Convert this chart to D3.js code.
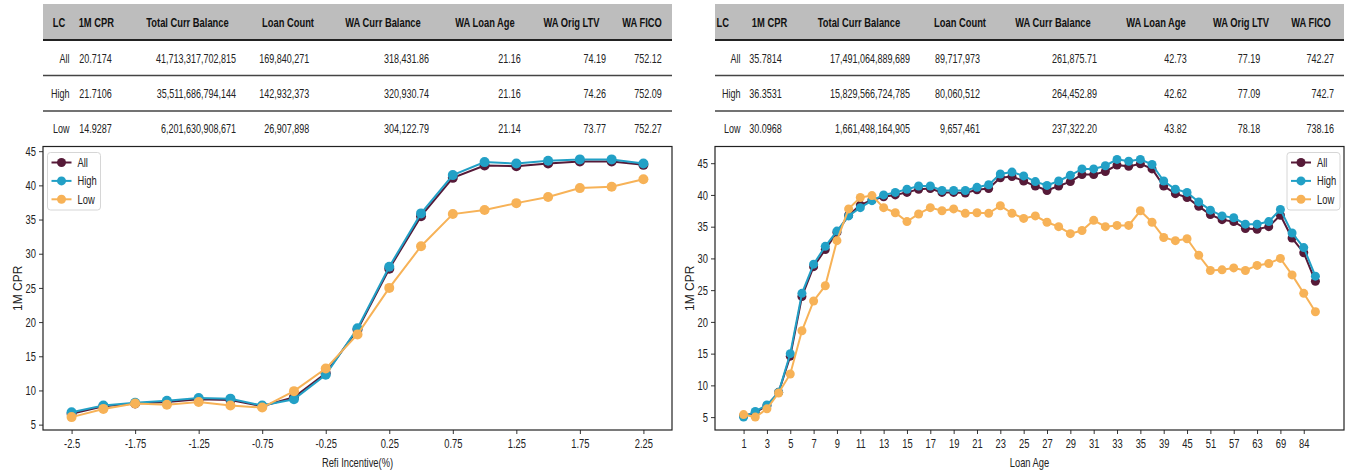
<!DOCTYPE html>
<html><head><meta charset="utf-8">
<script src="https://cdn.jsdelivr.net/npm/d3@7"></script>
<style>body{margin:0;background:#fff}svg{display:block}</style>
</head><body>
<svg id="c" width="1348" height="470"></svg>
<script>
// ---------------- DATA ----------------
const seriesNames = ["All", "High", "Low"];

const refiCats = ["-2.5","-2","-1.75","-1.5","-1.25","-1","-0.75","-0.5","-0.25","0","0.25","0.5","0.75","1","1.25","1.5","1.75","2","2.25"];
const refiTickLabels = ["-2.5","-1.75","-1.25","-0.75","-0.25","0.25","0.75","1.25","1.75","2.25"];
const refiAll  = [6.6, 7.7, 8.1, 8.3, 8.7, 8.6, 7.7, 9.0, 12.5, 18.9, 27.8, 35.5, 41.1, 42.9, 42.8, 43.2, 43.5, 43.5, 43.0];
const refiHigh = [6.8, 7.8, 8.2, 8.5, 8.9, 8.8, 7.8, 8.7, 12.3, 19.1, 28.1, 35.9, 41.5, 43.4, 43.2, 43.6, 43.8, 43.8, 43.2];
const refiLow  = [6.1, 7.3, 8.1, 7.9, 8.3, 7.8, 7.5, 9.9, 13.2, 18.2, 25.0, 31.1, 35.8, 36.4, 37.4, 38.3, 39.6, 39.8, 40.9];

const ageCats = ["1","2","3","4","5","6","7","8","9","10","11","12","13","14","15","16","17","18","19","20","21","22","23","24","25","26","27","28","29","30","31","32","33","34","35","36","39","42","45","48","51","54","57","60","63","66","69","75","84","90"];
const ageTickLabels = ["1","3","5","7","9","11","13","15","17","19","21","23","25","27","29","31","33","35","39","45","51","57","63","69","84"];
const ageAll  = [5.2, 5.7, 6.8, 8.9, 14.6, 24.0, 28.7, 31.4, 34.1, 36.8, 38.4, 39.2, 39.7, 40.0, 40.4, 40.9, 41.0, 40.4, 40.4, 40.3, 40.8, 41.0, 42.7, 42.9, 42.2, 41.4, 40.7, 41.4, 42.1, 43.2, 43.2, 43.7, 44.7, 44.5, 44.9, 44.1, 41.4, 40.2, 39.6, 38.2, 36.9, 36.1, 35.8, 34.7, 34.6, 35.0, 36.8, 33.2, 30.9, 26.4];
const ageHigh = [5.0, 5.9, 6.9, 8.9, 15.0, 24.5, 29.1, 31.9, 34.3, 36.7, 38.0, 39.1, 40.0, 40.4, 40.9, 41.4, 41.4, 40.7, 40.7, 40.7, 41.2, 41.6, 43.3, 43.6, 43.0, 42.1, 41.5, 42.2, 43.1, 44.1, 44.1, 44.6, 45.6, 45.3, 45.6, 44.8, 42.2, 40.9, 40.4, 38.9, 37.6, 36.7, 36.4, 35.4, 35.4, 35.8, 37.7, 34.0, 31.7, 27.2];
const ageLow  = [5.4, 5.0, 6.3, 8.8, 11.8, 18.6, 23.3, 25.7, 32.8, 37.8, 39.6, 39.9, 38.0, 37.2, 35.8, 37.0, 38.0, 37.5, 37.8, 37.1, 37.2, 37.1, 38.3, 37.1, 36.3, 36.7, 35.7, 35.0, 33.9, 34.4, 36.0, 35.0, 35.2, 35.2, 37.5, 35.7, 33.3, 32.8, 33.1, 30.5, 28.1, 28.2, 28.5, 28.1, 28.9, 29.2, 30.0, 27.4, 24.5, 21.6];

const tableHeaders = ["LC", "1M CPR", "Total Curr Balance", "Loan Count", "WA Curr Balance", "WA Loan Age", "WA Orig LTV", "WA FICO"];
const refiTableRows = [
  ["All",  "20.7174", "41,713,317,702,815", "169,840,271", "318,431.86", "21.16", "74.19", "752.12"],
  ["High", "21.7106", "35,511,686,794,144", "142,932,373", "320,930.74", "21.16", "74.26", "752.09"],
  ["Low",  "14.9287", "6,201,630,908,671",  "26,907,898",  "304,122.79", "21.14", "73.77", "752.27"]
];
const ageTableRows = [
  ["All",  "35.7814", "17,491,064,889,689", "89,717,973", "261,875.71", "42.73", "77.19", "742.27"],
  ["High", "36.3531", "15,829,566,724,785", "80,060,512", "264,452.89", "42.62", "77.09", "742.7"],
  ["Low",  "30.0968", "1,661,498,164,905",  "9,657,461",  "237,322.20", "43.82", "78.18", "738.16"]
];

// ---------------- STYLE / LAYOUT ----------------
const colors = {All: "#561a38", High: "#22a0c6", Low: "#f7b257"};
const REG = '"Liberation Sans", Arial, sans-serif';
const SX = 0.72; // narrow horizontal scale for condensed-looking text

const svg = d3.select("#c");

function ntext(sel, x, y, str, anchor, size, weight, fill) {
  return sel.append("text")
    .attr("transform", `translate(${x},${y}) scale(${SX},1)`)
    .attr("dy", "0.35em").attr("text-anchor", anchor)
    .attr("font-family", REG).attr("font-size", size)
    .attr("font-weight", weight || "normal").attr("fill", fill || "#222").text(str);
}

const panels = [
  {x0: 43, x1: 672, cats: refiCats, ticks: refiTickLabels, data: [refiAll, refiHigh, refiLow], pad: 0.9,
   xTitle: "Refi Incentive(%)", r: 5, legendX: 47.5, table: refiTableRows,
   hdrCenters: [59, 96.3, 187.5, 288, 383, 485, 571.5, 642],
   valRight:   [69.5, 111.7, 236, 309.3, 429, 520.7, 606, 661.7]},
  {x0: 715, x1: 1344, cats: ageCats, ticks: ageTickLabels, data: [ageAll, ageHigh, ageLow], pad: 2.45,
   xTitle: "Loan Age", r: 4.5, legendX: 1287, table: ageTableRows,
   hdrCenters: [722.7, 769.5, 859, 960, 1053, 1156, 1241, 1311],
   valRight:   [740.5, 781.7, 910, 980, 1097, 1186.8, 1260.3, 1334]}
];
const plotTop = 146.5, plotBottom = 430;

panels.forEach(p => {
  // ---------- table ----------
  const t = svg.append("g");
  t.append("rect").attr("x", p.x0).attr("y", 4).attr("width", p.x1 - p.x0).attr("height", 36).attr("fill", "#bdbdbd");
  tableHeaders.forEach((h, i) => ntext(t, p.hdrCenters[i], 22, h, "middle", 13, "bold", "#111"));
  const rowY = [40, 75.5, 111, 146];
  [40, 75.5, 111].forEach((ly, k) => {
    t.append("line").attr("x1", p.x0).attr("x2", p.x1).attr("y1", ly).attr("y2", ly)
      .attr("stroke", k === 0 ? "#222" : "#444").attr("stroke-width", k === 0 ? 1.8 : 1.3);
  });
  p.table.forEach((row, r) => {
    const cy = (rowY[r] + rowY[r + 1]) / 2 + 0.5;
    row.forEach((v, i) => ntext(t, p.valRight[i], cy, v, "end", 12.5, "normal", "#222"));
  });

  // ---------- chart ----------
  const all = p.data.flat();
  const mn = d3.min(all), mx = d3.max(all), m = (mx - mn) * 0.05;
  const y = d3.scaleLinear().domain([mn - m, mx + m]).range([plotBottom, plotTop]);
  const x = d3.scalePoint().domain(p.cats).range([p.x0, p.x1]).padding(p.pad);

  const g = svg.append("g");
  g.append("rect").attr("x", p.x0).attr("y", plotTop).attr("width", p.x1 - p.x0).attr("height", plotBottom - plotTop)
    .attr("fill", "#fff");

  const yAx = g.append("g").attr("transform", `translate(${p.x0},0)`)
    .call(d3.axisLeft(y).tickValues(d3.range(5, 46, 5)).tickSize(4).tickPadding(3).tickFormat(d3.format("d")));
  const xAx = g.append("g").attr("transform", `translate(0,${plotBottom})`)
    .call(d3.axisBottom(x).tickValues(p.ticks).tickSize(4).tickPadding(5));
  [yAx, xAx].forEach(a => {
    a.select(".domain").remove();
    a.selectAll(".tick line").attr("stroke", "#333").attr("stroke-width", 1);
    a.selectAll(".tick text").attr("font-family", REG).attr("font-size", 13).attr("fill", "#222")
      .attr("transform", `scale(${SX},1)`);
  });
  yAx.selectAll(".tick text").attr("x", -7 / SX);

  ntext(g, (p.x0 + p.x1) / 2, 462, p.xTitle, "middle", 13, "normal", "#222");
  g.append("text").attr("transform", `translate(${p.x0 - 25.5},${(plotTop + plotBottom) / 2}) rotate(-90)`)
    .attr("dy", "0.35em").attr("text-anchor", "middle").attr("font-family", REG).attr("font-size", 12)
    .attr("fill", "#222").text("1M CPR");

  const line = d3.line().x((d, i) => x(p.cats[i])).y(d => y(d));
  seriesNames.forEach((name, k) => {
    const vals = p.data[k];
    g.append("path").datum(vals).attr("d", line).attr("fill", "none")
      .attr("stroke", colors[name]).attr("stroke-width", 2);
    g.append("g").selectAll("circle").data(vals).join("circle")
      .attr("cx", (d, i) => x(p.cats[i])).attr("cy", d => y(d)).attr("r", p.r).attr("fill", colors[name]);
  });

  g.append("rect").attr("x", p.x0).attr("y", plotTop).attr("width", p.x1 - p.x0).attr("height", plotBottom - plotTop)
    .attr("fill", "none").attr("stroke", "#222").attr("stroke-width", 1.2);

  // ---------- legend ----------
  const lg = g.append("g").attr("transform", `translate(${p.legendX},152.5)`);
  lg.append("rect").attr("width", 53).attr("height", 57.5).attr("rx", 3).attr("fill", "#fff")
    .attr("stroke", "#d6d6d6").attr("stroke-width", 1);
  seriesNames.forEach((name, k) => {
    const ly = 10 + k * 18.4;
    lg.append("line").attr("x1", 4).attr("x2", 24).attr("y1", ly).attr("y2", ly)
      .attr("stroke", colors[name]).attr("stroke-width", 2);
    lg.append("circle").attr("cx", 14).attr("cy", ly).attr("r", 4.5).attr("fill", colors[name]);
    ntext(lg, 30, ly, name, "start", 13, "normal", "#222");
  });
});
</script>
</body></html>
